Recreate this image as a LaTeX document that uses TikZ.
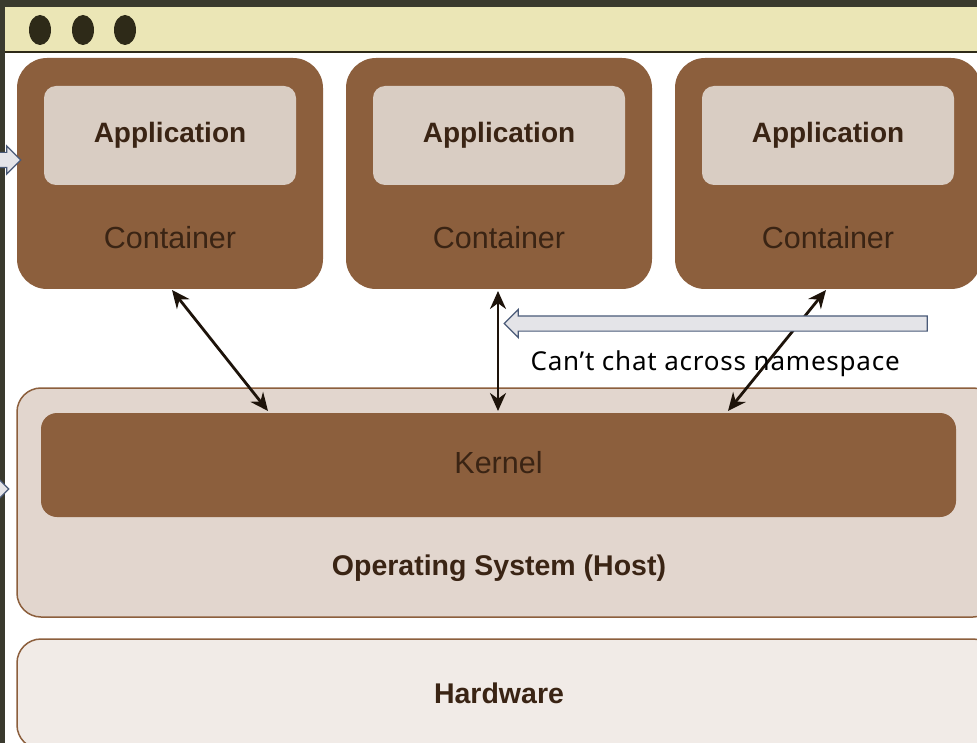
\documentclass[tikz,border=0pt]{standalone}
\usepackage{fontspec}
\setmainfont{Liberation Sans}
\newfontfamily\notefont{Noto Sans}[LetterSpace=3]
\usetikzlibrary{positioning,shapes.arrows,shapes.geometric,arrows.meta}

\definecolor{bgdark}{HTML}{3A3A2E}
\definecolor{barcream}{HTML}{EBE6B6}
\definecolor{dotdark}{HTML}{2E2A18}
\definecolor{cbrown}{HTML}{8C5F3D}
\definecolor{appgray}{HTML}{D9CDC3}
\definecolor{osgray}{HTML}{E2D6CE}
\definecolor{hwgray}{HTML}{F1EBE7}
\definecolor{txtbrown}{HTML}{3A2414}
\definecolor{arrowfill}{HTML}{E4E4E8}
\definecolor{arrowline}{HTML}{4A5A78}

\begin{document}
\begin{tikzpicture}[x=1pt, y=-1pt,
    container/.style={fill=cbrown, rounded corners=30pt, minimum width=306pt, minimum height=231pt, inner sep=0pt},
    appbox/.style={fill=appgray, rounded corners=12pt, minimum width=252pt, minimum height=99pt, inner sep=0pt,
                   text=txtbrown, font=\fontsize{28}{30}\selectfont\bfseries},
    ctext/.style={text=txtbrown, font=\fontsize{30.5}{32}\selectfont},
    layer/.style={draw=cbrown, line width=1.5pt, rounded corners=24pt, inner sep=0pt},
    btext/.style={text=txtbrown, font=\fontsize{28.5}{30}\selectfont\bfseries},
    link/.style={draw=black!85!brown, line width=2.8pt, {Stealth[length=18pt, width=16pt]}-{Stealth[length=18pt, width=16pt]}},
    hollow/.style={single arrow, draw=arrowline, fill=arrowfill, line width=1.2pt, inner xsep=0pt, inner ysep=7pt,
                   single arrow head extend=6.5pt, shape border rotate=180},
    winbtn/.style={ellipse, fill=dotdark, minimum width=22pt, minimum height=30pt, inner sep=0pt}]
  \clip (0,0) rectangle (977,743);

  % window frame
  \fill[bgdark] (0,0) rectangle (977,743);
  \fill[white] (5,52) rectangle (990,760);
  \fill[barcream] (5,7) rectangle (990,52);
  \draw[dotdark, line width=1.5pt] (5,52) -- (990,52);
  \foreach \dx/\nm in {40/1, 83/2, 125/3}
    \node[winbtn] (b\nm) at (\dx,30) {};

  % containers
  \foreach \cx/\nm in {170/1, 499/2, 828/3} {
    \node[container] (c\nm) at (\cx,173.5) {};
    \node[appbox] (a\nm) at (\cx,135.5) {Application};
    \node[ctext] (t\nm) at (\cx,238) {Container};
  }

  % host layers
  \node[layer, fill=osgray, minimum width=980pt, minimum height=229pt] (os) at (507,502.5) {};
  \node[fill=cbrown, rounded corners=16pt, minimum width=915pt, minimum height=104pt, inner sep=0pt] (kern) at (498.5,465) {};
  \node[ctext] (kerntext) at (498.5,463) {Kernel};
  \node[btext] (ostext) at (499,568) {Operating System (Host)};
  \node[layer, fill=hwgray, minimum width=980pt, minimum height=110pt] (hw) at (507,694) {};
  \node[btext] (hwtext) at (499,693) {Hardware};

  % connectors
  \coordinate (k1) at (268,411);
  \coordinate (k2) at (498,411);
  \coordinate (k3) at (728,411);
  \coordinate (u1) at (172,290);
  \coordinate (u2) at (498,291);
  \coordinate (u3) at (826,290);
  \draw[link] (u1) -- (k1);
  \draw[link] (u2) -- (k2);
  \draw[link] (u3) -- (k3);

  % note
  \node[hollow, minimum height=423pt] (note) at (719.5,323.5) {};
  \node[font=\notefont\fontsize{26}{28}\selectfont, anchor=west] (notetext) at (527,364) {Can’t chat across namespace};

  % cut-off arrows at the left edge
  \node[hollow, shape border rotate=0, minimum height=60pt] (la1) at (-13,160) {};
  \node[hollow, shape border rotate=0, minimum height=60pt] (la2) at (-25,489) {};
\end{tikzpicture}
\end{document}
